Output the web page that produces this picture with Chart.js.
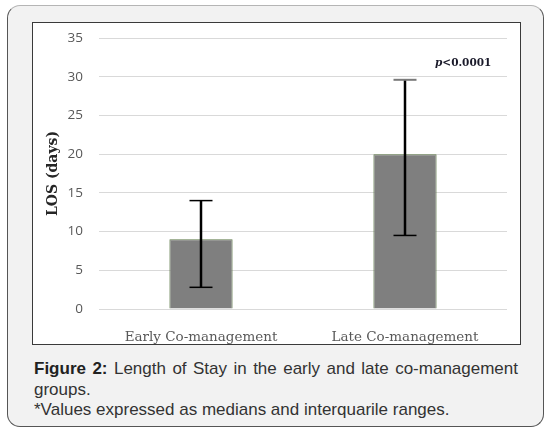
<!DOCTYPE html>
<html>
<head>
<meta charset="utf-8">
<script src="https://cdn.jsdelivr.net/npm/chart.js@4"></script>
<style>
  html, body { margin: 0; padding: 0; background: #fff; }
  body { width: 550px; height: 430px; position: relative; overflow: hidden; }
  .frame {
    position: absolute; left: 7px; top: 5px; width: 537px; height: 422px;
    box-sizing: border-box; background: #f2f2f2;
    border: 1.5px solid #555; border-top-color: #b5b5b5; border-radius: 13px;
  }
  .plot {
    position: absolute; left: 32px; top: 22px; width: 489px; height: 323px;
    box-sizing: border-box; border: 1px solid #3a3a3a; background: #fff;
  }
  .plot canvas { display: block; }
  .caption {
    position: absolute; left: 34px; top: 359px; width: 484px;
    font-family: "Liberation Sans", Arial, sans-serif; font-size: 17px;
    line-height: 20.5px; color: #333; text-align: justify;
  }
  .caption b { color: #222; }
</style>
</head>
<body>
<div class="frame"></div>
<div class="plot"><canvas id="losChart" width="487" height="321"></canvas></div>
<div class="caption">
  <b>Figure 2:</b> Length of Stay in the early and late co-management groups.<br>
  *Values expressed as medians and interquarile ranges.
</div>
<script>
const groups = ['Early Co-management', 'Late Co-management'];
const medians = [9, 20];
const iqrLow = [2.8, 9.5];
const iqrHigh = [14, 29.6];
const yTicks = [0, 5, 10, 15, 20, 25, 30, 35];
const pLabel = 'p<0.0001';

// whiskers for the interquartile ranges, drawn through the chart scales
const errorBars = {
    id: 'errorBars',
    afterDatasetsDraw(chart) {
        const ctx = chart.ctx;
        const xs = chart.scales.x;
        const ys = chart.scales.y;
        ctx.save();
        groups.forEach((g, i) => {
            const x = xs.getPixelForValue(i);
            const top = ys.getPixelForValue(iqrHigh[i]);
            const bot = ys.getPixelForValue(iqrLow[i]);
            ctx.strokeStyle = '#000';
            ctx.lineWidth = 2.5;
            ctx.beginPath();
            ctx.moveTo(x, top);
            ctx.lineTo(x, bot);
            ctx.stroke();
            ctx.lineWidth = 1.5;
            ctx.beginPath();
            ctx.moveTo(x - 11.5, bot);
            ctx.lineTo(x + 11.5, bot);
            ctx.stroke();
            ctx.strokeStyle = i === 1 ? '#7a7a7a' : '#000';
            ctx.lineWidth = i === 1 ? 2 : 1.5;
            ctx.beginPath();
            ctx.moveTo(x - 11.5, top);
            ctx.lineTo(x + 11.5, top);
            ctx.stroke();
        });

        // significance note above the late group
        const px = xs.getPixelForValue(1) + 30;
        const py = ys.getPixelForValue(31.8);
        ctx.fillStyle = '#1a1a2a';
        ctx.textBaseline = 'middle';
        ctx.font = 'italic bold 10.5px "DejaVu Serif", serif';
        const pw = ctx.measureText(pLabel[0]).width;
        ctx.fillText(pLabel[0], px, py);
        ctx.font = 'bold 10.5px "DejaVu Serif", serif';
        ctx.fillText(pLabel.slice(1), px + pw, py);
        ctx.restore();
    }
};

new Chart(document.getElementById('losChart'), {
    type: 'bar',
    data: {
        labels: groups,
        datasets: [{
            label: 'LOS',
            data: medians,
            backgroundColor: '#7f7f7f',
            borderColor: '#5f7a4a',
            borderWidth: 1,
            barPercentage: 0.31,
            categoryPercentage: 1
        }]
    },
    options: {
        responsive: false,
        animation: false,
        layout: { padding: { top: 15, right: 13, left: 0, bottom: 0 } },
        plugins: {
            legend: { display: false },
            tooltip: { enabled: false }
        },
        scales: {
            x: {
                grid: { display: false },
                border: { display: false },
                ticks: {
                    color: '#595959',
                    padding: 12,
                    font: { family: '"DejaVu Serif", serif', size: 13.5 }
                },
                afterFit: (s) => { s.height = 35; s.paddingLeft = 0; s.paddingRight = 0; }
            },
            y: {
                min: 0,
                max: 35,
                afterBuildTicks: (s) => { s.ticks = yTicks.map(v => ({ value: v })); },
                grid: { color: '#d9d9d9', lineWidth: 1, drawTicks: false },
                border: { display: false },
                ticks: {
                    color: '#595959',
                    padding: 16,
                    font: { family: '"Open Sans", sans-serif', size: 13.5 }
                },
                title: {
                    display: true,
                    text: 'LOS (days)',
                    color: '#262626',
                    padding: { top: 12, bottom: 0 },
                    font: { family: '"DejaVu Serif", serif', size: 14, weight: 'bold' }
                },
                afterFit: (s) => { s.width = 66; s.paddingTop = 0; s.paddingBottom = 0; }
            }
        }
    },
    plugins: [errorBars]
});
</script>
</body>
</html>
